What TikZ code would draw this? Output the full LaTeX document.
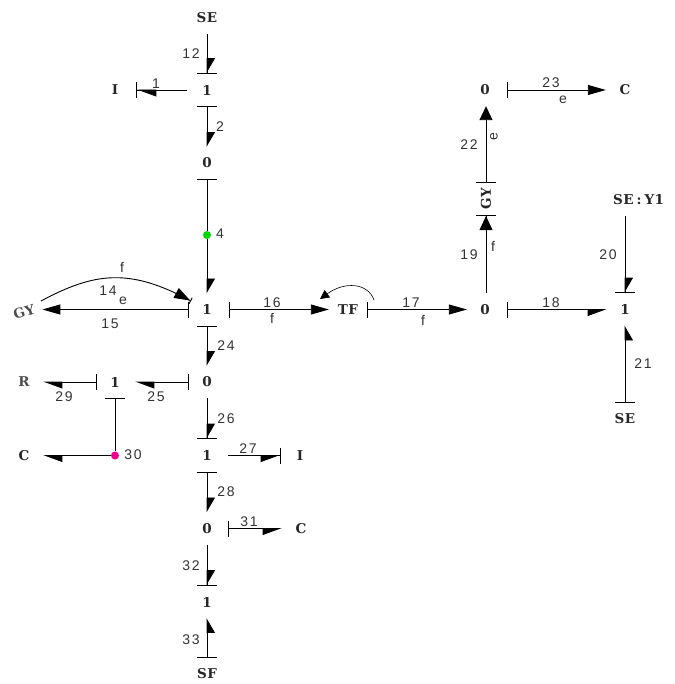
\documentclass[tikz,border=0pt]{standalone}
\usepackage{fontspec}
\usetikzlibrary{arrows.meta}
\newfontfamily\elemfont[LetterSpace=4]{DejaVu Serif}
\newfontfamily\numfont[LetterSpace=12]{Liberation Sans}
\tikzset{
  hLH/.tip={Triangle[left, length=18pt, width=13pt, sep=0pt]},
  hRH/.tip={Triangle[right, length=18pt, width=13pt, sep=0pt]},
  hLV/.tip={Triangle[left, length=14pt, width=16pt, sep=0pt]},
  hRV/.tip={Triangle[right, length=14pt, width=16pt, sep=0pt]},
  fH/.tip={Triangle[length=18pt, width=10pt, sep=0pt]},
  fV/.tip={Triangle[length=14pt, width=13pt, sep=0pt]},
  hstub/.tip={Bar[width=16pt, sep=0pt]},
  vstub/.tip={Bar[width=20pt, sep=0pt]},
}

\begin{document}
\begin{tikzpicture}[
  x=1pt, y=-1pt,
  every node/.style={inner sep=0pt},
  elem/.style={font=\elemfont\bfseries\fontsize{13.5}{14}\selectfont, text=black!85, minimum width=38pt, minimum height=32pt},
  junc/.style={elem, minimum width=36pt},
  lab/.style={font=\numfont\fontsize{14}{14}\selectfont, text=black!80},
  tag/.style={font=\numfont\fontsize{14}{14}\selectfont, text=black!80},
  bond/.style={line width=0.9pt},
  dot/.style={circle, minimum size=8pt},
]
\useasboundingbox (0,0) rectangle (674,684);
\clip (0,0) rectangle (670,684);

% main column
\node[elem] (se12) at (207,17.5) {SE};
\node[junc] (j1) at (207,90) {1};
\node[elem] (i1) at (115,90) {I};
\node[junc] (j2) at (207,163) {0};
\node[dot, fill=green!85!black] (dot4) at (207,235) {};
\node[junc] (j3) at (207,309.5) {1};
\node[junc] (j4) at (207,382) {0};
\node[junc] (j5) at (207,455.5) {1};
\node[elem] (i27) at (300,455.5) {I};
\node[junc] (j6) at (207,528.5) {0};
\node[elem] (c31) at (301,528.5) {C};
\node[junc] (j7) at (207,602) {1};
\node[elem] (sf) at (207,674) {SF};

% left branch
\node[elem, rotate=17, text=black!70] (gy1) at (24,312) {GY};
\node[elem, text=black!70] (r29) at (24,382) {R};
\node[junc] (j8) at (115,382) {1};
\node[dot, fill=magenta] (dot30) at (115,455.5) {};
\node[elem] (c30) at (24,455.5) {C};
\coordinate (gyout) at (41,301);
\coordinate (j3in) at (191,301);

% right branch
\node[elem] (tf) at (348,309.5) {TF};
\node[junc] (j9) at (485,309.5) {0};
\node[elem, rotate=90, minimum width=32pt, minimum height=20pt] (gy2) at (486,199) {GY};
\node[junc] (j10) at (485,90) {0};
\node[elem] (c23) at (625,90) {C};
\node[junc] (j11) at (625,309.5) {1};
\node[elem] (se20) at (625,200) {\makebox[0pt][l]{\hspace{-12pt}SE\kern3pt:\kern3pt Y1}};
\node[elem] (se21) at (625,419) {SE};
\coordinate (tfout) at (374,300);
\coordinate (tfin) at (320,299);

% bonds
\draw[bond, -{hLV[]vstub}] (se12) -- (j1);
\draw[bond, -{hLH[]hstub}] ([xshift=-2pt]j1.west) -- ([xshift=2pt]i1.east);
\draw[bond, {vstub}-{hLV}] (j1) -- (j2);
\draw[bond, {vstub}-] (j2) -- (dot4);
\draw[bond, -{hLV}] (dot4) -- (j3);
\draw[bond, {vstub}-{hLV}] (j3) -- (j4);
\draw[bond, -{hLV[]vstub}] (j4) -- (j5);
\draw[bond, -{hRH[]hstub}] ([xshift=3pt]j5.east) -- (i27);
\draw[bond, {vstub}-{hLV}] (j5) -- (j6);
\draw[bond, {hstub}-{hRH}] ([xshift=3pt]j6.east) -- (c31);
\draw[bond, -{hLV[]vstub}] (j6) -- (j7);
\draw[bond, {vstub}-{hRV}] (sf) -- (j7);
\draw[bond, {hstub}-{fH}] (j3) -- (j3 -| gy1.east);
\draw[bond, {hstub}-{hLH}] (j4) -- ([xshift=2pt]j8.east);
\draw[bond, {hstub}-{hLH}] (j8) -- (r29);
\draw[bond, {vstub}-] (j8) -- (dot30);
\draw[bond, -{hLH}] (dot30) -- (c30);
\draw[bond, -{fH[length=16pt, width=11pt]Bar[width=7pt, sep=0pt]}] (gyout) .. controls (95,272) and (130,268) .. (j3in);
\draw[bond, {hstub}-{fH}] ([xshift=4pt]j3.east) -- (tf);
\draw[bond, {hstub}-{fH}] (tf) -- (j9);
\draw[bond, {hstub}-{hRH}] ([xshift=4pt]j9.east) -- (j11);
\draw[bond, -{fV[]vstub}] (j9.north -| gy2) -- (gy2.west);
\draw[bond, {vstub}-{fV}] (gy2.east) -- (j10.south -| gy2);
\draw[bond, {hstub}-{fH}] ([xshift=4pt]j10.east) -- (c23);
\draw[bond, -{hLV[]vstub}] (se20) -- (j11);
\draw[bond, {vstub}-{hRV}] (se21) -- (j11);
\draw[line width=0.6pt, -{Triangle[length=9pt, width=9pt]}] (tfout) .. controls (368,283) and (345,281) .. (tfin);

% bond numbers
\node[lab] (n12) at (191,54) {12};
\node[lab] (n1) at (156,84) {1};
\node[lab] (n2) at (220,127) {2};
\node[lab] (n4) at (220,234) {4};
\node[lab] (n14) at (108,291) {14};
\node[lab] (n15) at (110,324) {15};
\node[lab] (n16) at (272,303) {16};
\node[lab] (n17) at (411,303) {17};
\node[lab] (n18) at (551,303) {18};
\node[lab] (n19) at (469,255) {19};
\node[lab] (n20) at (608,255) {20};
\node[lab] (n21) at (643,364) {21};
\node[lab] (n22) at (469,145) {22};
\node[lab] (n23) at (551,83) {23};
\node[lab] (n24) at (226,346) {24};
\node[lab] (n25) at (156,397) {25};
\node[lab] (n26) at (226,419) {26};
\node[lab] (n27) at (248,449) {27};
\node[lab] (n28) at (226,492) {28};
\node[lab] (n29) at (64,397) {29};
\node[lab] (n30) at (133,455) {30};
\node[lab] (n31) at (249,522) {31};
\node[lab] (n32) at (191,566) {32};
\node[lab] (n33) at (191,640) {33};

% effort and flow marks
\node[tag] (f14) at (122,267) {f};
\node[tag] (e14) at (123,301) {e};
\node[tag] (f16) at (272,318) {f};
\node[tag] (f17) at (423,320) {f};
\node[tag] (f19) at (493,246) {f};
\node[tag, rotate=90] (e22) at (494,137) {e};
\node[tag] (e23) at (563,100) {e};
\end{tikzpicture}
\end{document}
